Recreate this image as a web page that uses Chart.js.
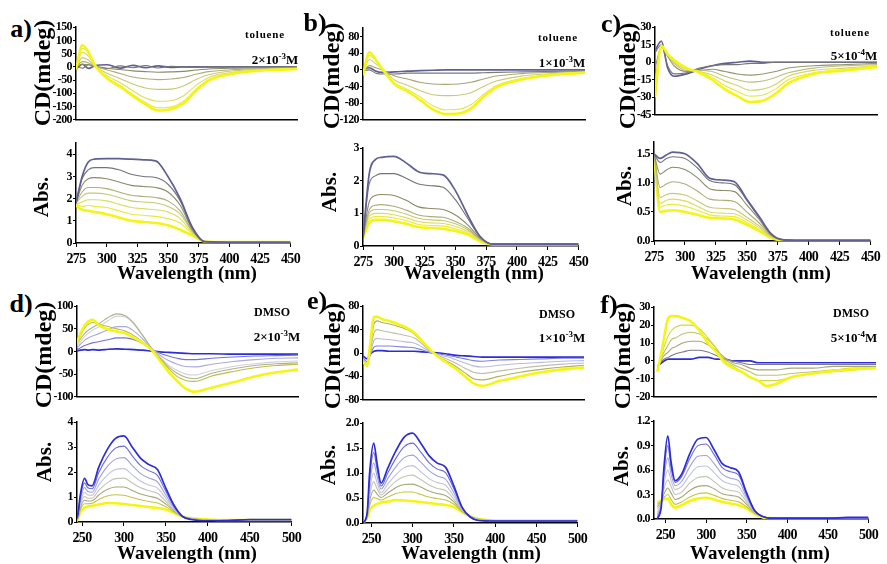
<!DOCTYPE html>
<html lang="en">
<head>
<meta charset="UTF-8">
<title>CD and absorption spectra</title>
<script src="https://cdn.jsdelivr.net/npm/chart.js@4.4.0/dist/chart.umd.min.js"></script>
<style>
    body { margin: 0; background: #fff; }
    #fig { position: relative; width: 887px; height: 564px; overflow: hidden; background: #fff; }
    #fig canvas { position: absolute; }
    .lbl { position: absolute; transform: translate(-50%, -50%); font-family: "Liberation Serif", "Times New Roman", serif;
           font-weight: bold; color: #000; white-space: nowrap; line-height: 1; z-index: 5; }
    .rot { transform: translate(-50%, -50%) rotate(-90deg); }
    .pl { font-size: 26px; }
    .cd { font-size: 24px; }
    .ab { font-size: 21px; }
    .wl { font-size: 19px; }
    .sol { font-size: 11px; letter-spacing: 0.8px; }
    .dm { font-size: 12px; }
    .cc { font-size: 13px; }
    .cc sup { font-size: 9px; vertical-align: 5px; }
</style>
</head>
<body>
<div id="fig">
    <div class="lbl pl" style="left:21px;top:29px">a)</div>
    <div class="lbl pl" style="left:315px;top:23px">b)</div>
    <div class="lbl pl" style="left:611px;top:24px">c)</div>
    <div class="lbl pl" style="left:21px;top:304px">d)</div>
    <div class="lbl pl" style="left:317px;top:301px">e)</div>
    <div class="lbl pl" style="left:609px;top:305px">f)</div>

    <div class="lbl cd rot" style="left:42px;top:73px">CD(mdeg)</div>
    <div class="lbl cd rot" style="left:331px;top:76px">CD(mdeg)</div>
    <div class="lbl cd rot" style="left:627px;top:76px">CD(mdeg)</div>
    <div class="lbl cd rot" style="left:43px;top:355px">CD(mdeg)</div>
    <div class="lbl cd rot" style="left:332px;top:356px">CD(mdeg)</div>
    <div class="lbl cd rot" style="left:622px;top:356px">CD(mdeg)</div>

    <div class="lbl ab rot" style="left:41px;top:197px">Abs.</div>
    <div class="lbl ab rot" style="left:329px;top:192px">Abs.</div>
    <div class="lbl ab rot" style="left:624px;top:186px">Abs.</div>
    <div class="lbl ab rot" style="left:44px;top:462px">Abs.</div>
    <div class="lbl ab rot" style="left:328px;top:465px">Abs.</div>
    <div class="lbl ab rot" style="left:621px;top:466px">Abs.</div>

    <div class="lbl wl" style="left:187px;top:272px">Wavelength (nm)</div>
    <div class="lbl wl" style="left:474px;top:272px">Wavelength (nm)</div>
    <div class="lbl wl" style="left:761px;top:272px">Wavelength (nm)</div>
    <div class="lbl wl" style="left:187px;top:552px">Wavelength (nm)</div>
    <div class="lbl wl" style="left:471px;top:552px">Wavelength (nm)</div>
    <div class="lbl wl" style="left:760px;top:552px">Wavelength (nm)</div>

    <div class="lbl sol" style="left:265px;top:34px">toluene</div>
    <div class="lbl sol" style="left:558px;top:37px">toluene</div>
    <div class="lbl sol" style="left:850px;top:32px">toluene</div>
    <div class="lbl dm" style="left:272px;top:312px">DMSO</div>
    <div class="lbl dm" style="left:557px;top:314px">DMSO</div>
    <div class="lbl dm" style="left:851px;top:313px">DMSO</div>

    <div class="lbl cc" style="left:275px;top:59px">2×10<sup>-3</sup>M</div>
    <div class="lbl cc" style="left:562px;top:62px">1×10<sup>-3</sup>M</div>
    <div class="lbl cc" style="left:854px;top:55px">5×10<sup>-4</sup>M</div>
    <div class="lbl cc" style="left:277px;top:336px">2×10<sup>-3</sup>M</div>
    <div class="lbl cc" style="left:562px;top:337px">1×10<sup>-3</sup>M</div>
    <div class="lbl cc" style="left:854px;top:337px">5×10<sup>-4</sup>M</div>
</div>

<script>
    // wavelength grids (nm)
    const WL_TOL = [275, 280, 285, 290, 300, 310, 320, 330, 340, 350, 360, 370, 380, 400, 425, 450];
    const WL_DMSO = [240, 245, 248, 253, 257, 262, 270, 280, 290, 300, 310, 320, 330, 340, 350, 360, 370, 380, 400, 425, 450, 475, 500];

    // a) toluene 2e-3 M, CD (mdeg), first curve blue ... last curve yellow
    const CD_A = [
        [-8, 10, -6, 5, 8, -5, 6, -3, 4, -2, 0, 0, 0, 0, 0, 0],
        [5, -5, 8, 2, -6, 4, -3, 5, -4, 2, 0, -1, 0, 0, 0, 0],
        [0, 10, 8, 2, -5, -10, -15, -18, -20, -19, -17, -12, -8, -5, -3, -2],
        [-2, 20, 15, 2, -12, -25, -38, -45, -48, -46, -40, -28, -18, -10, -6, -4],
        [-3, 35, 25, 2, -25, -45, -65, -80, -85, -84, -72, -48, -30, -15, -8, -5],
        [-5, 55, 40, 3, -35, -60, -90, -118, -130, -128, -110, -70, -40, -20, -10, -6],
        [-8, 70, 50, 5, -42, -70, -104, -135, -155, -152, -130, -84, -48, -23, -12, -7],
        [-10, 82, 55, 6, -45, -75, -110, -142, -165, -160, -138, -90, -52, -25, -13, -8]
    ];
    // a) absorbance
    const AB_A = [
        [1.8, 3.0, 3.65, 3.78, 3.8, 3.8, 3.78, 3.75, 3.7, 3.0, 2.0, 0.7, 0.06, 0.03, 0.03, 0.03],
        [1.8, 2.9, 3.3, 3.4, 3.4, 3.3, 3.1, 3.0, 2.95, 2.65, 1.9, 0.65, 0.06, 0.03, 0.03, 0.03],
        [1.8, 2.6, 2.9, 2.95, 2.9, 2.75, 2.6, 2.55, 2.5, 2.3, 1.7, 0.6, 0.06, 0.03, 0.03, 0.03],
        [1.8, 2.3, 2.5, 2.5, 2.45, 2.3, 2.15, 2.1, 2.05, 1.9, 1.45, 0.55, 0.06, 0.03, 0.03, 0.03],
        [1.8, 2.1, 2.25, 2.25, 2.2, 2.05, 1.9, 1.85, 1.8, 1.65, 1.3, 0.5, 0.06, 0.03, 0.03, 0.03],
        [1.75, 1.85, 1.95, 1.95, 1.9, 1.75, 1.6, 1.55, 1.5, 1.4, 1.1, 0.45, 0.06, 0.03, 0.03, 0.03],
        [1.75, 1.65, 1.7, 1.65, 1.6, 1.45, 1.3, 1.25, 1.2, 1.1, 0.9, 0.4, 0.06, 0.04, 0.04, 0.04],
        [1.7, 1.5, 1.45, 1.4, 1.3, 1.15, 1.0, 0.95, 0.9, 0.8, 0.6, 0.33, 0.07, 0.04, 0.04, 0.04]
    ];

    // b) toluene 1e-3 M
    const CD_B = [
        [0, 5, -3, -6, -5, -3, -2, -1, 0, 0, 0, 0, 0, 0, 0, 0],
        [-3, 0, -8, -10, -10, -8, -8, -8, -8, -8, -8, -7, -6, -5, -4, -3],
        [-5, 10, 5, 0, -15, -22, -30, -34, -35, -34, -30, -22, -15, -9, -6, -4],
        [-8, 25, 15, 3, -25, -37, -50, -60, -62, -61, -55, -40, -27, -15, -9, -5],
        [-10, 35, 22, 3, -32, -47, -65, -86, -96, -95, -84, -59, -38, -21, -11, -6],
        [-13, 42, 25, 3, -35, -52, -72, -95, -106, -105, -93, -65, -42, -23, -12, -7]
    ];
    const AB_B = [
        [0.25, 2.2, 2.65, 2.72, 2.75, 2.55, 2.28, 2.22, 2.18, 1.7, 0.95, 0.3, 0.06, 0.06, 0.06, 0.06],
        [0.25, 1.9, 2.15, 2.22, 2.22, 2.08, 1.9, 1.85, 1.8, 1.42, 0.85, 0.29, 0.06, 0.06, 0.06, 0.06],
        [0.25, 1.35, 1.55, 1.58, 1.55, 1.4, 1.2, 1.15, 1.12, 0.95, 0.65, 0.25, 0.06, 0.06, 0.06, 0.06],
        [0.25, 1.1, 1.25, 1.27, 1.22, 1.1, 0.95, 0.9, 0.88, 0.75, 0.55, 0.22, 0.06, 0.06, 0.06, 0.06],
        [0.25, 1.0, 1.12, 1.12, 1.08, 0.98, 0.85, 0.8, 0.78, 0.68, 0.5, 0.2, 0.06, 0.06, 0.06, 0.06],
        [0.25, 0.9, 1.0, 1.0, 0.96, 0.87, 0.75, 0.71, 0.69, 0.6, 0.45, 0.18, 0.05, 0.05, 0.05, 0.05],
        [0.25, 0.8, 0.9, 0.9, 0.86, 0.78, 0.66, 0.63, 0.61, 0.53, 0.4, 0.16, 0.05, 0.05, 0.05, 0.05],
        [0.25, 0.7, 0.8, 0.8, 0.76, 0.68, 0.58, 0.55, 0.53, 0.46, 0.35, 0.14, 0.05, 0.05, 0.05, 0.05]
    ];

    // c) toluene 5e-4 M
    const CD_C = [
        [10, 18, -5, -12, -10, -6, -3, -1, 0, 1, 0, 0, 0, 0, 0, 0],
        [8, 15, -3, -10, -9, -5, -3, -2, -2, -1, -1, 0, 0, 0, 0, 0],
        [-5, 13, 5, -3, -8, -7, -6, -8, -10, -11, -10, -8, -5, -3, -2, -1],
        [-15, 13, 6, -1, -7, -7, -8, -12, -15, -17, -16, -13, -9, -5, -3, -2],
        [-20, 13, 7, 0, -6, -8, -11, -16, -20, -24, -23, -19, -12, -7, -5, -3],
        [-25, 14, 7, 1, -5, -8, -13, -20, -25, -29, -28, -23, -15, -9, -6, -3],
        [-30, 14, 7, 2, -5, -9, -15, -23, -29, -34, -33, -27, -18, -10, -7, -4]
    ];
    const AB_C = [
        [1.5, 1.42, 1.48, 1.53, 1.5, 1.33, 1.08, 1.05, 1.02, 0.72, 0.42, 0.12, 0.02, 0.01, 0.01, 0.01],
        [1.5, 1.35, 1.42, 1.45, 1.42, 1.26, 1.04, 1.0, 0.97, 0.7, 0.4, 0.11, 0.02, 0.01, 0.01, 0.01],
        [1.5, 1.15, 1.22, 1.27, 1.23, 1.09, 0.9, 0.87, 0.85, 0.62, 0.37, 0.1, 0.02, 0.01, 0.01, 0.01],
        [1.5, 0.92, 0.98, 1.02, 0.98, 0.86, 0.72, 0.7, 0.68, 0.5, 0.31, 0.09, 0.02, 0.01, 0.01, 0.01],
        [1.5, 0.75, 0.8, 0.82, 0.79, 0.69, 0.58, 0.56, 0.54, 0.41, 0.26, 0.08, 0.02, 0.01, 0.01, 0.01],
        [1.5, 0.65, 0.7, 0.72, 0.69, 0.6, 0.5, 0.48, 0.47, 0.36, 0.23, 0.07, 0.02, 0.01, 0.01, 0.01],
        [1.5, 0.58, 0.62, 0.63, 0.6, 0.53, 0.45, 0.43, 0.42, 0.32, 0.2, 0.06, 0.02, 0.01, 0.01, 0.01],
        [1.5, 0.5, 0.52, 0.53, 0.5, 0.45, 0.4, 0.39, 0.37, 0.28, 0.17, 0.05, 0.01, 0.01, 0.01, 0.01]
    ];

    // d) DMSO 2e-3 M
    const CD_D = [
        [0, 2, 3, 4, 3, 4, 3, 5, 6, 5, 4, 3, 1, -1, -2, -3, -4, -5, -5, -6, -6, -6, -6],
        [0, 5, 8, 13, 16, 19, 22, 26, 30, 30, 26, 18, 6, -4, -10, -15, -18, -18, -15, -12, -10, -9, -8],
        [2, 10, 16, 25, 30, 34, 40, 48, 55, 55, 45, 28, 8, -8, -20, -28, -33, -34, -28, -22, -18, -15, -14],
        [4, 15, 22, 33, 40, 47, 55, 68, 78, 76, 60, 34, 9, -12, -30, -42, -50, -52, -42, -33, -27, -23, -21],
        [6, 20, 28, 40, 47, 53, 62, 75, 83, 79, 62, 36, 8, -14, -34, -48, -57, -60, -48, -38, -31, -27, -25],
        [6, 22, 35, 52, 60, 64, 60, 55, 50, 45, 35, 21, 5, -15, -38, -55, -64, -66, -54, -44, -36, -31, -28],
        [6, 25, 40, 58, 66, 70, 57, 49, 44, 40, 30, 19, 4, -20, -45, -65, -82, -89, -80, -68, -55, -46, -40]
    ];
    const AB_D = [
        [0, 0.3, 1.1, 1.75, 1.5, 1.45, 2.2, 2.9, 3.35, 3.45, 3.0, 2.55, 2.3, 2.1, 1.36, 0.66, 0.22, 0.1, 0.05, 0.06, 0.1, 0.1, 0.1],
        [0, 0.27, 1.0, 1.57, 1.37, 1.33, 1.98, 2.58, 2.96, 3.04, 2.65, 2.26, 2.05, 1.87, 1.23, 0.62, 0.22, 0.11, 0.06, 0.06, 0.09, 0.09, 0.09],
        [0, 0.24, 0.88, 1.38, 1.22, 1.19, 1.72, 2.22, 2.52, 2.58, 2.26, 1.94, 1.76, 1.61, 1.08, 0.56, 0.22, 0.12, 0.07, 0.07, 0.09, 0.09, 0.09],
        [0, 0.2, 0.76, 1.19, 1.08, 1.07, 1.48, 1.87, 2.1, 2.14, 1.89, 1.63, 1.48, 1.36, 0.95, 0.52, 0.22, 0.12, 0.07, 0.07, 0.09, 0.09, 0.09],
        [0, 0.18, 0.67, 1.02, 0.95, 0.95, 1.27, 1.57, 1.74, 1.76, 1.56, 1.37, 1.25, 1.15, 0.83, 0.47, 0.22, 0.13, 0.08, 0.07, 0.08, 0.08, 0.08],
        [0, 0.15, 0.58, 0.87, 0.84, 0.85, 1.08, 1.3, 1.4, 1.4, 1.26, 1.12, 1.03, 0.95, 0.72, 0.44, 0.22, 0.14, 0.08, 0.07, 0.08, 0.08, 0.08],
        [0, 0.13, 0.49, 0.73, 0.73, 0.75, 0.9, 1.04, 1.09, 1.07, 0.98, 0.89, 0.82, 0.76, 0.61, 0.4, 0.22, 0.15, 0.09, 0.08, 0.08, 0.08, 0.08],
        [0, 0.1, 0.4, 0.58, 0.62, 0.65, 0.7, 0.76, 0.75, 0.72, 0.68, 0.64, 0.6, 0.56, 0.5, 0.36, 0.22, 0.15, 0.1, 0.08, 0.08, 0.08, 0.08]
    ];

    // e) DMSO 1e-3 M
    const CD_E = [
        [-5, -10, -3, 3, 4, 4, 3, 3, 3, 3, 2, 1, 0, -2, -4, -5, -6, -7, -7, -7, -7, -7, -7],
        [-8, -15, -5, 10, 12, 12, 12, 11, 10, 9, 5, 0, -2, -4, -7, -10, -13, -14, -12, -11, -10, -9, -9],
        [-10, -18, -5, 22, 25, 24, 23, 21, 19, 17, 10, 1, -3, -7, -12, -17, -22, -24, -21, -18, -16, -14, -13],
        [-12, -22, -3, 35, 40, 38, 36, 33, 30, 26, 15, 2, -5, -11, -18, -26, -33, -35, -31, -26, -22, -19, -17],
        [-14, -22, 2, 50, 55, 52, 50, 46, 41, 33, 18, 3, -7, -15, -24, -34, -44, -46, -40, -33, -28, -24, -21],
        [-15, -22, 10, 62, 62, 58, 55, 50, 44, 35, 20, 4, -8, -18, -28, -40, -52, -56, -48, -40, -33, -28, -25]
    ];
    const AB_E = [
        [0, 0.2, 1.0, 1.6, 1.2, 0.8, 1.1, 1.45, 1.72, 1.8, 1.6, 1.35, 1.2, 1.12, 0.75, 0.32, 0.12, 0.05, 0.04, 0.04, 0.04, 0.04, 0.04],
        [0, 0.19, 0.89, 1.41, 1.08, 0.74, 1.0, 1.3, 1.53, 1.6, 1.42, 1.21, 1.08, 1.01, 0.69, 0.31, 0.12, 0.05, 0.04, 0.04, 0.04, 0.04, 0.04],
        [0, 0.17, 0.76, 1.2, 0.94, 0.68, 0.89, 1.13, 1.31, 1.36, 1.22, 1.05, 0.94, 0.88, 0.61, 0.29, 0.12, 0.06, 0.04, 0.04, 0.04, 0.04, 0.04],
        [0, 0.15, 0.64, 1.0, 0.81, 0.61, 0.78, 0.97, 1.11, 1.15, 1.03, 0.89, 0.81, 0.76, 0.54, 0.27, 0.12, 0.06, 0.05, 0.05, 0.05, 0.05, 0.05],
        [0, 0.14, 0.54, 0.83, 0.69, 0.56, 0.68, 0.84, 0.93, 0.96, 0.87, 0.76, 0.69, 0.65, 0.48, 0.26, 0.13, 0.07, 0.05, 0.05, 0.05, 0.05, 0.05],
        [0, 0.13, 0.44, 0.66, 0.58, 0.51, 0.6, 0.71, 0.77, 0.78, 0.72, 0.64, 0.59, 0.55, 0.43, 0.25, 0.13, 0.07, 0.05, 0.05, 0.05, 0.05, 0.05],
        [0, 0.11, 0.35, 0.51, 0.49, 0.46, 0.52, 0.59, 0.62, 0.62, 0.57, 0.52, 0.49, 0.46, 0.38, 0.23, 0.13, 0.08, 0.05, 0.05, 0.05, 0.05, 0.05],
        [0, 0.1, 0.25, 0.35, 0.38, 0.41, 0.43, 0.46, 0.45, 0.44, 0.42, 0.4, 0.38, 0.36, 0.32, 0.22, 0.13, 0.08, 0.05, 0.05, 0.05, 0.05, 0.05]
    ];

    // f) DMSO 5e-4 M
    const CD_F = [
        [-3, -1, 0, 1, 1, 1, 1, 1, 2, 2, 1, 1, 0, 0, 0, -1, -1, -1, -1, -1, -1, -1, -1],
        [-3, 0, 1, 2, 3, 4, 5, 6, 6, 5, 3, 1, 0, -1, -2, -2, -2, -2, -2, -2, -2, -2, -2],
        [-3, 1, 3, 5, 7, 8, 10, 11, 11, 9, 6, 2, -1, -2, -4, -5, -5, -5, -4, -4, -3, -3, -3],
        [-4, 2, 5, 9, 12, 13, 15, 16, 15, 12, 7, 1, -2, -4, -6, -8, -8, -8, -7, -6, -5, -4, -4],
        [-5, 3, 8, 14, 17, 19, 20, 20, 18, 13, 7, 0, -3, -6, -9, -11, -11, -11, -9, -7, -6, -5, -4],
        [-6, 5, 13, 24, 25, 25, 24, 22, 17, 10, 5, -1, -4, -6, -9, -11, -14, -13, -9, -7, -5.5, -4.5, -4]
    ];
    const AB_F = [
        [0, 0.15, 0.6, 1.02, 0.7, 0.47, 0.55, 0.8, 0.98, 1.0, 0.85, 0.68, 0.63, 0.58, 0.32, 0.1, 0.03, 0.01, 0.01, 0.01, 0.01, 0.02, 0.02],
        [0.02, 0.17, 0.55, 0.9, 0.63, 0.45, 0.52, 0.74, 0.9, 0.92, 0.79, 0.63, 0.58, 0.54, 0.3, 0.1, 0.03, 0.01, 0.01, 0.01, 0.01, 0.01, 0.01],
        [0.05, 0.18, 0.48, 0.75, 0.55, 0.41, 0.46, 0.64, 0.77, 0.78, 0.68, 0.55, 0.5, 0.47, 0.27, 0.09, 0.03, 0.01, 0.01, 0.01, 0.01, 0.01, 0.01],
        [0.08, 0.2, 0.42, 0.6, 0.47, 0.36, 0.4, 0.54, 0.64, 0.65, 0.57, 0.47, 0.43, 0.4, 0.24, 0.09, 0.03, 0.01, 0.01, 0.01, 0.01, 0.01, 0.01],
        [0.12, 0.21, 0.36, 0.48, 0.4, 0.3, 0.33, 0.44, 0.51, 0.52, 0.46, 0.38, 0.35, 0.33, 0.21, 0.08, 0.03, 0.01, 0.01, 0.01, 0.01, 0.01, 0.01],
        [0.15, 0.22, 0.3, 0.38, 0.32, 0.24, 0.27, 0.35, 0.4, 0.41, 0.37, 0.31, 0.29, 0.27, 0.18, 0.08, 0.03, 0.01, 0.01, 0.01, 0.01, 0.01, 0.01],
        [0.18, 0.22, 0.26, 0.3, 0.24, 0.18, 0.21, 0.27, 0.31, 0.32, 0.29, 0.25, 0.23, 0.21, 0.15, 0.07, 0.03, 0.01, 0.01, 0.01, 0.01, 0.01, 0.01],
        [0.2, 0.23, 0.24, 0.25, 0.18, 0.14, 0.17, 0.22, 0.25, 0.26, 0.24, 0.21, 0.19, 0.17, 0.13, 0.06, 0.02, 0.01, 0.01, 0.01, 0.01, 0.01, 0.01]
    ];

    // colour ramps (first curve -> last curve)
    const PAL_TOL = [[95, 95, 150], [130, 130, 100], [190, 190, 130], [225, 225, 90], [245, 245, 20]];
    const PAL_DMSO = [[45, 45, 215], [150, 150, 225], [210, 210, 215], [160, 160, 105], [245, 245, 20]];
    const PAL_DMSO_F = [[45, 45, 215], [140, 140, 120], [185, 185, 130], [205, 205, 80], [245, 245, 20]];

    function ramp(stops, t) {
        const n = stops.length - 1;
        const p = Math.min(n - 1e-6, t * n);
        const i = Math.floor(p), f = p - i;
        const c = stops[i].map((v, k) => Math.round(v + (stops[i + 1][k] - v) * f));
        return 'rgb(' + c.join(',') + ')';
    }

    const FONT = "'Liberation Serif', 'Times New Roman', serif";
    const YW = 40, PT = 5, PR = 8, XH = 30;

    // box = [left, right, top, bottom] of the plot area in the page
    const panels = [
        { wl: WL_TOL, curves: CD_A, pal: PAL_TOL, box: [76, 297, 24, 126], x: [275, 450, 25], y: [-200, 150, 50], abs: false },
        { wl: WL_TOL, curves: AB_A, pal: PAL_TOL, box: [76, 297, 140, 243], x: [275, 450, 25], y: [0, 4.5, 1], abs: true },
        { wl: WL_TOL, curves: CD_B, pal: PAL_TOL, box: [363, 585, 25, 126], x: [275, 450, 25], y: [-120, 100, 40], abs: false },
        { wl: WL_TOL, curves: AB_B, pal: PAL_TOL, box: [363, 585, 145, 246], x: [275, 450, 25], y: [0, 3, 1], abs: true },
        { wl: WL_TOL, curves: CD_C, pal: PAL_TOL, box: [655, 877, 24, 121], x: [275, 450, 25], y: [-45, 30, 15], abs: false },
        { wl: WL_TOL, curves: AB_C, pal: PAL_TOL, box: [654, 877, 139, 241], x: [275, 450, 25], y: [0, 1.7, 0.5], abs: true, dec: 1 },
        { wl: WL_DMSO, curves: CD_D, pal: PAL_DMSO, box: [77, 298, 303, 403], x: [244, 500, 50], y: [-100, 100, 50], abs: false },
        { wl: WL_DMSO, curves: AB_D, pal: PAL_DMSO, box: [77, 298, 419, 522], x: [244, 500, 50], y: [0, 4, 1], abs: true },
        { wl: WL_DMSO, curves: CD_E, pal: PAL_DMSO, box: [363, 584, 303, 406], x: [240, 500, 50], y: [-80, 80, 40], abs: false },
        { wl: WL_DMSO, curves: AB_E, pal: PAL_DMSO, box: [363, 584, 420, 523], x: [240, 500, 50], y: [0, 2, 0.5], abs: true, dec: 1 },
        { wl: WL_DMSO, curves: CD_F, pal: PAL_DMSO_F, box: [654, 876, 304, 403], x: [236, 500, 50], y: [-20, 30, 10], abs: false },
        { wl: WL_DMSO, curves: AB_F, pal: PAL_DMSO, box: [654, 875, 418, 519], x: [236, 500, 50], y: [0, 1.2, 0.3], abs: true, dec: 1 }
    ];

    // tighter tick text, like the condensed labels of the original figure
    const tightText = {
        id: 'tightText',
        beforeDraw(chart) { chart.ctx.letterSpacing = '-0.6px'; }
    };

    const fig = document.getElementById('fig');

    panels.forEach(p => {
        const [L, R, T, B] = p.box;
        const xh = p.abs ? XH : 2;
        const canvas = document.createElement('canvas');
        canvas.width = YW + (R - L) + PR;
        canvas.height = PT + (B - T) + xh;
        canvas.style.left = (L - YW) + 'px';
        canvas.style.top = (T - PT) + 'px';
        canvas.style.width = canvas.width + 'px';
        canvas.style.height = canvas.height + 'px';
        fig.appendChild(canvas);

        const n = p.curves.length;
        const datasets = p.curves.map((ys, k) => ({
            data: p.wl.map((w, i) => ({ x: w, y: ys[i] })),
            borderColor: ramp(p.pal, k / (n - 1)),
            borderWidth: k === n - 1 ? 2.6 : (k === 0 ? 1.7 : 1.1),
            pointRadius: 0,
            fill: false,
            cubicInterpolationMode: 'monotone',
            order: p.abs ? k : n - 1 - k
        }));

        new Chart(canvas, {
            type: 'line',
            data: { datasets },
            plugins: [tightText],
            options: {
                responsive: false,
                animation: false,
                events: [],
                layout: { padding: { top: PT, right: PR, left: 0, bottom: 0 }, autoPadding: false },
                plugins: { legend: { display: false }, tooltip: { enabled: false } },
                scales: {
                    x: {
                        type: 'linear', min: p.x[0], max: p.x[1],
                        border: { display: true, color: '#000', width: 1.5 },
                        grid: { display: p.abs, drawOnChartArea: false, color: '#000', tickLength: 4 },
                        ticks: {
                            display: p.abs, stepSize: p.x[2], includeBounds: false, autoSkip: false,
                            minRotation: 0, maxRotation: 0,
                            color: '#000', padding: 4, font: { family: FONT, size: 14, weight: 'bold' }
                        },
                        afterFit: s => { s.height = xh; }
                    },
                    y: {
                        type: 'linear', min: p.y[0], max: p.y[1],
                        border: { display: true, color: '#000', width: 1.5 },
                        grid: { display: true, drawOnChartArea: false, color: '#000', tickLength: 3 },
                        ticks: {
                            stepSize: p.y[2], includeBounds: false, autoSkip: false, color: '#000', padding: 1,
                            font: { family: FONT, size: 12, weight: 'bold' },
                            callback: v => p.dec ? Number(v).toFixed(p.dec) : Math.round(v)
                        },
                        afterFit: s => { s.width = YW; }
                    }
                }
            }
        });
    });
</script>
</body>
</html>
